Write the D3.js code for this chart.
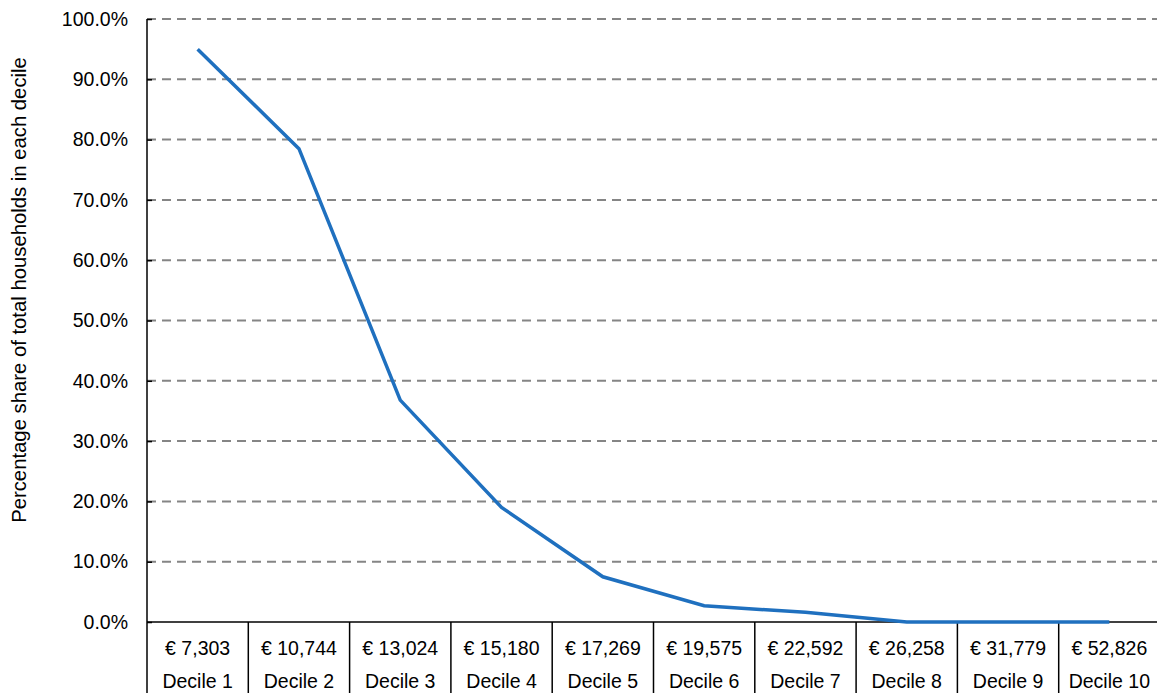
<!DOCTYPE html>
<html><head><meta charset="utf-8">
<script src="https://cdn.jsdelivr.net/npm/d3@7"></script>
<style>body{margin:0;background:#fff}svg{display:block;font-family:"Liberation Sans",Arial,sans-serif}</style>
</head><body>
<svg id="c" width="1157" height="693"></svg>
<script>
const deciles = ["Decile 1","Decile 2","Decile 3","Decile 4","Decile 5","Decile 6","Decile 7","Decile 8","Decile 9","Decile 10"];
const incomes = ["€ 7,303","€ 10,744","€ 13,024","€ 15,180","€ 17,269","€ 19,575","€ 22,592","€ 26,258","€ 31,779","€ 52,826"];
const shares = [0.950, 0.785, 0.368, 0.190, 0.075, 0.027, 0.016, 0.0, 0.0, 0.0];
const yTicks = [0,0.1,0.2,0.3,0.4,0.5,0.6,0.7,0.8,0.9,1.0];

const FS = 19.5;
const svg = d3.select("#c");
const m = {left:147, top:19, right:1160, bottom:622};
const x = d3.scaleBand().domain(deciles).range([m.left, m.right]);
const y = d3.scaleLinear().domain([0,1]).range([m.bottom, m.top]);

// gridlines
svg.append("g").selectAll("line").data(yTicks.filter(d=>d>0)).join("line")
  .attr("x1", m.left).attr("x2", m.right)
  .attr("y1", d=>y(d)).attr("y2", d=>y(d))
  .attr("stroke","#858585").attr("stroke-width",2).attr("stroke-dasharray","9,6");

// y axis
const yAxis = svg.append("g").attr("transform",`translate(${m.left},0)`)
  .call(d3.axisLeft(y).tickValues(yTicks).tickFormat(d3.format(".1%")).tickSize(-5).tickPadding(19));
yAxis.select(".domain").remove();
yAxis.selectAll(".tick line").attr("stroke","#000").attr("stroke-width",1.5);
yAxis.selectAll("text").attr("font-size",FS).attr("fill","#000").attr("font-family","Liberation Sans, Arial, sans-serif");
svg.append("line").attr("x1",m.left).attr("x2",m.left).attr("y1",m.top).attr("y2",693).attr("stroke","#000").attr("stroke-width",1.5);

// bottom axis table
svg.append("line").attr("x1",m.left).attr("x2",m.right).attr("y1",m.bottom).attr("y2",m.bottom).attr("stroke","#000").attr("stroke-width",1.5);
svg.append("g").selectAll("line").data(deciles.slice(1)).join("line")
  .attr("x1",d=>x(d)).attr("x2",d=>x(d)).attr("y1",m.bottom).attr("y2",693)
  .attr("stroke","#000").attr("stroke-width",1.5);
svg.append("g").selectAll("text").data(incomes).join("text")
  .attr("x",(d,i)=>x(deciles[i])+x.bandwidth()/2).attr("y",655)
  .attr("text-anchor","middle").attr("font-size",FS).text(d=>d);
svg.append("g").selectAll("text").data(deciles).join("text")
  .attr("x",d=>x(d)+x.bandwidth()/2).attr("y",688)
  .attr("text-anchor","middle").attr("font-size",FS).text(d=>d);

// line
const line = d3.line().x((d,i)=>x(deciles[i])+x.bandwidth()/2).y(d=>y(d));
svg.append("path").datum(shares).attr("d",line).attr("fill","none")
  .attr("stroke","#1f70bf").attr("stroke-width",3.5).attr("stroke-linejoin","miter");

// y title
svg.append("text").attr("transform","translate(26,290) rotate(-90)")
  .attr("text-anchor","middle").attr("font-size",20.3).text("Percentage share of total households in each decile");
</script>
</body></html>
